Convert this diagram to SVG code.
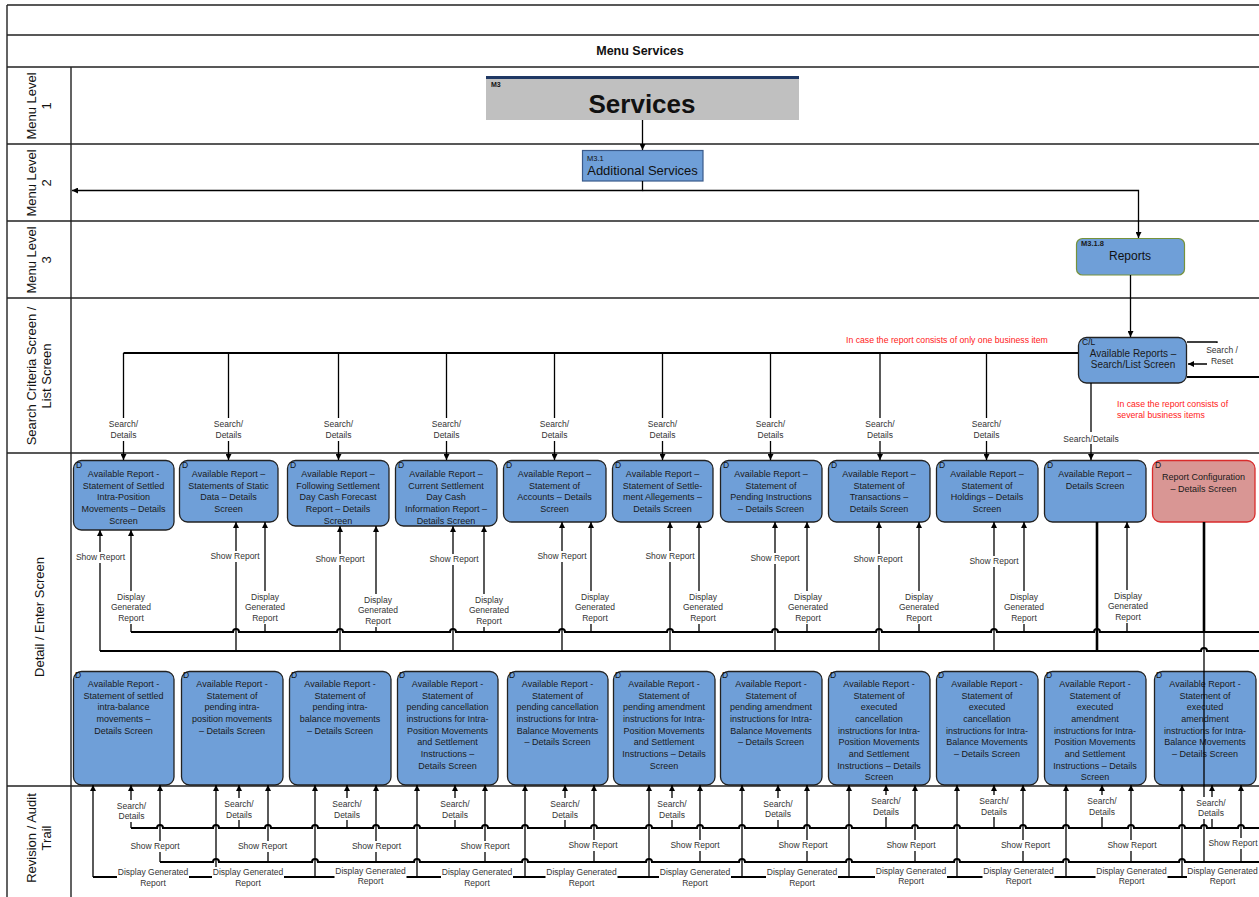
<svg xmlns="http://www.w3.org/2000/svg" width="1259" height="897" viewBox="0 0 1259 897">
<defs>
<marker id="ah" viewBox="0 0 8 8" refX="8" refY="4" markerWidth="6" markerHeight="6" orient="auto" markerUnits="userSpaceOnUse"><path d="M0,0 L8,4 L0,8 z" fill="#000"/></marker>
<style>
text{font-family:'Liberation Sans',Arial,sans-serif}
.lane{stroke:#222;stroke-width:1.4;fill:none}
.ll{font-size:13px;fill:#111;text-anchor:middle}
.box{fill:#6f9fd8;stroke:#222;stroke-width:1.3}
.red{fill:#d99694;stroke:#d92b2b;stroke-width:1.3}
.bt{font-size:9px;fill:#1a1a1a;text-anchor:middle}
.d{font-size:8.5px;fill:#111}
.ln{stroke:#000;stroke-width:1.3;fill:none}
.ar{stroke:#000;stroke-width:1.3;fill:none;marker-end:url(#ah)}
.bus{stroke:#000;stroke-width:2;fill:none}
.thk{stroke:#000;stroke-width:2.6;fill:none}
.lb{fill:#fff}
.cl{font-size:8.5px;fill:#333;text-anchor:middle}
.rt{font-size:8.7px;fill:#ff2020}
</style>
</defs>
<rect width="1259" height="897" fill="#fff"/>
<g id="lanes">
<path class="lane" d="M7,5 H1259 M7,5 V897 M7,35 H1259 M7,67 H1259 M7,144 H1259 M7,221 H1259 M7,298 H1259 M7,453 H1259 M7,786 H1259 M71,67 V897" />
<text x="640" y="55" style="font-size:12.5px;font-weight:bold;text-anchor:middle;fill:#111">Menu Services</text>
<text class="ll" transform="translate(36,106) rotate(-90)">Menu Level</text>
<text class="ll" transform="translate(51,106) rotate(-90)">1</text>
<text class="ll" transform="translate(36,183) rotate(-90)">Menu Level</text>
<text class="ll" transform="translate(51,183) rotate(-90)">2</text>
<text class="ll" transform="translate(36,260) rotate(-90)">Menu Level</text>
<text class="ll" transform="translate(51,260) rotate(-90)">3</text>
<text class="ll" transform="translate(36,376) rotate(-90)">Search Criteria Screen /</text>
<text class="ll" transform="translate(51,376) rotate(-90)">List Screen</text>
<text class="ll" transform="translate(44,617) rotate(-90)">Detail / Enter Screen</text>
<text class="ll" transform="translate(36,838) rotate(-90)">Revision / Audit</text>
<text class="ll" transform="translate(51,838) rotate(-90)">Trail</text>
</g>

<g id="n-services">
<rect x="486" y="76" width="313" height="44" fill="#c0c0c0"/>
<rect x="486" y="76" width="313" height="3" fill="#1f3864"/>
<text x="491" y="87" style="font-size:7px;font-weight:bold;fill:#111">M3</text>
<text x="642" y="113" style="font-size:26px;font-weight:bold;fill:#111;text-anchor:middle">Services</text>
</g>
<g id="n-additional">
<rect x="582.5" y="150.5" width="120.5" height="30.5" fill="#6f9fd8" stroke="#3a5a8a" stroke-width="1.2"/>
<text x="587" y="161" style="font-size:7.5px;fill:#111">M3.1</text>
<text x="642.5" y="175" style="font-size:13px;fill:#111;text-anchor:middle">Additional Services</text>
</g>
<g id="n-reports">
<rect x="1076.5" y="238.5" width="108" height="36.5" rx="6" fill="#6f9fd8" stroke="#76923c" stroke-width="1.2"/>
<text x="1081" y="245.5" style="font-size:7.5px;font-weight:bold;fill:#1a1a1a">M3.1.8</text>
<text x="1130" y="260" style="font-size:12px;fill:#111;text-anchor:middle">Reports</text>
</g>
<g id="n-list">
<rect class="box" x="1078.5" y="337.5" width="108" height="45.5" rx="8"/>
<text class="d" x="1082" y="345">C/L</text>
<text x="1133" y="357" style="font-size:10px;fill:#1a1a1a;text-anchor:middle">Available Reports –</text>
<text x="1133" y="368" style="font-size:10px;fill:#1a1a1a;text-anchor:middle">Search/List Screen</text>
</g>

<g id="notes">
<text class="rt" x="846" y="343">In case the report consists of only one business item</text>
<text class="rt" x="1117" y="407">In case the report consists of</text>
<text class="rt" x="1117" y="418">several business items</text>
</g>

<g id="n-d1"><rect class="box" x="73.5" y="460.5" width="100.5" height="69.5" rx="8"/><text class="d" x="76" y="467.5">D</text>
<text class="bt"><tspan x="123.5" y="477">Available Report -</tspan><tspan x="123.5" y="489">Statement of Settled</tspan><tspan x="123.5" y="500">Intra-Position</tspan><tspan x="123.5" y="512">Movements – Details</tspan><tspan x="123.5" y="524">Screen</tspan></text></g>
<g id="n-d2"><rect class="box" x="179.5" y="460.5" width="98.5" height="61.5" rx="8"/><text class="d" x="182" y="467.5">D</text>
<text class="bt"><tspan x="228.5" y="477">Available Report –</tspan><tspan x="228.5" y="489">Statements of Static</tspan><tspan x="228.5" y="500">Data – Details</tspan><tspan x="228.5" y="512">Screen</tspan></text></g>
<g id="n-d3"><rect class="box" x="287.5" y="460.5" width="101.5" height="65.5" rx="8"/><text class="d" x="290" y="467.5">D</text>
<text class="bt"><tspan x="338" y="477">Available Report –</tspan><tspan x="338" y="489">Following Settlement</tspan><tspan x="338" y="500">Day Cash Forecast</tspan><tspan x="338" y="512">Report – Details</tspan><tspan x="338" y="524">Screen</tspan></text></g>
<g id="n-d4"><rect class="box" x="395.5" y="460.5" width="101.5" height="65.5" rx="8"/><text class="d" x="398" y="467.5">D</text>
<text class="bt"><tspan x="446" y="477">Available Report –</tspan><tspan x="446" y="489">Current Settlement</tspan><tspan x="446" y="500">Day Cash</tspan><tspan x="446" y="512">Information Report –</tspan><tspan x="446" y="524">Details Screen</tspan></text></g>
<g id="n-d5"><rect class="box" x="503.5" y="460.5" width="102.5" height="61.5" rx="8"/><text class="d" x="506" y="467.5">D</text>
<text class="bt"><tspan x="554.5" y="477">Available Report –</tspan><tspan x="554.5" y="489">Statement of</tspan><tspan x="554.5" y="500">Accounts – Details</tspan><tspan x="554.5" y="512">Screen</tspan></text></g>
<g id="n-d6"><rect class="box" x="612.5" y="460.5" width="100.5" height="61.5" rx="8"/><text class="d" x="615" y="467.5">D</text>
<text class="bt"><tspan x="662.5" y="477">Available Report –</tspan><tspan x="662.5" y="489">Statement of Settle-</tspan><tspan x="662.5" y="500">ment Allegements –</tspan><tspan x="662.5" y="512">Details Screen</tspan></text></g>
<g id="n-d7"><rect class="box" x="720.5" y="460.5" width="101.5" height="61.5" rx="8"/><text class="d" x="723" y="467.5">D</text>
<text class="bt"><tspan x="771" y="477">Available Report –</tspan><tspan x="771" y="489">Statement of</tspan><tspan x="771" y="500">Pending Instructions</tspan><tspan x="771" y="512">– Details Screen</tspan></text></g>
<g id="n-d8"><rect class="box" x="828.5" y="460.5" width="101.5" height="61.5" rx="8"/><text class="d" x="831" y="467.5">D</text>
<text class="bt"><tspan x="879" y="477">Available Report –</tspan><tspan x="879" y="489">Statement of</tspan><tspan x="879" y="500">Transactions –</tspan><tspan x="879" y="512">Details Screen</tspan></text></g>
<g id="n-d9"><rect class="box" x="936.5" y="460.5" width="101.5" height="61.5" rx="8"/><text class="d" x="939" y="467.5">D</text>
<text class="bt"><tspan x="987" y="477">Available Report –</tspan><tspan x="987" y="489">Statement of</tspan><tspan x="987" y="500">Holdings – Details</tspan><tspan x="987" y="512">Screen</tspan></text></g>
<g id="n-d10"><rect class="box" x="1044.5" y="460.5" width="101.5" height="61.5" rx="8"/><text class="d" x="1047" y="467.5">D</text>
<text class="bt"><tspan x="1095" y="477">Available Report –</tspan><tspan x="1095" y="489">Details Screen</tspan></text></g>
<g id="n-d11"><rect class="red" x="1152.5" y="460.5" width="102.5" height="61.5" rx="8"/><text class="d" x="1155" y="467.5">D</text>
<text class="bt"><tspan x="1203.5" y="480">Report Configuration</tspan><tspan x="1203.5" y="492">– Details Screen</tspan></text></g>

<g id="n-e1"><rect class="box" x="73.5" y="671.5" width="100.5" height="113.5" rx="8"/><text class="d" x="75" y="677.5">D</text>
<text class="bt"><tspan x="123.5" y="687">Available Report -</tspan><tspan x="123.5" y="699">Statement of settled</tspan><tspan x="123.5" y="710">intra-balance</tspan><tspan x="123.5" y="722">movements  –</tspan><tspan x="123.5" y="734">Details Screen</tspan></text></g>
<g id="n-e2"><rect class="box" x="181.5" y="671.5" width="101.5" height="113.5" rx="8"/><text class="d" x="183" y="677.5">D</text>
<text class="bt"><tspan x="232" y="687">Available Report -</tspan><tspan x="232" y="699">Statement of</tspan><tspan x="232" y="710">pending intra-</tspan><tspan x="232" y="722">position movements</tspan><tspan x="232" y="734">– Details Screen</tspan></text></g>
<g id="n-e3"><rect class="box" x="289.5" y="671.5" width="101.5" height="113.5" rx="8"/><text class="d" x="291" y="677.5">D</text>
<text class="bt"><tspan x="340" y="687">Available Report -</tspan><tspan x="340" y="699">Statement of</tspan><tspan x="340" y="710">pending intra-</tspan><tspan x="340" y="722">balance movements</tspan><tspan x="340" y="734">– Details Screen</tspan></text></g>
<g id="n-e4"><rect class="box" x="397.5" y="671.5" width="100.5" height="113.5" rx="8"/><text class="d" x="399" y="677.5">D</text>
<text class="bt"><tspan x="447.5" y="687">Available Report -</tspan><tspan x="447.5" y="699">Statement of</tspan><tspan x="447.5" y="710">pending cancellation</tspan><tspan x="447.5" y="722">instructions for Intra-</tspan><tspan x="447.5" y="734">Position Movements</tspan><tspan x="447.5" y="745">and Settlement</tspan><tspan x="447.5" y="757">Instructions  –</tspan><tspan x="447.5" y="769">Details Screen</tspan></text></g>
<g id="n-e5"><rect class="box" x="507.5" y="671.5" width="100.5" height="113.5" rx="8"/><text class="d" x="509" y="677.5">D</text>
<text class="bt"><tspan x="557.5" y="687">Available Report -</tspan><tspan x="557.5" y="699">Statement of</tspan><tspan x="557.5" y="710">pending cancellation</tspan><tspan x="557.5" y="722">instructions for Intra-</tspan><tspan x="557.5" y="734">Balance Movements</tspan><tspan x="557.5" y="745">– Details Screen</tspan></text></g>
<g id="n-e6"><rect class="box" x="613.5" y="671.5" width="101.5" height="113.5" rx="8"/><text class="d" x="615" y="677.5">D</text>
<text class="bt"><tspan x="664" y="687">Available Report -</tspan><tspan x="664" y="699">Statement of</tspan><tspan x="664" y="710">pending amendment</tspan><tspan x="664" y="722">instructions for Intra-</tspan><tspan x="664" y="734">Position Movements</tspan><tspan x="664" y="745">and Settlement</tspan><tspan x="664" y="757">Instructions – Details</tspan><tspan x="664" y="769">Screen</tspan></text></g>
<g id="n-e7"><rect class="box" x="720.5" y="671.5" width="101.5" height="113.5" rx="8"/><text class="d" x="722" y="677.5">D</text>
<text class="bt"><tspan x="771" y="687">Available Report -</tspan><tspan x="771" y="699">Statement of</tspan><tspan x="771" y="710">pending amendment</tspan><tspan x="771" y="722">instructions for Intra-</tspan><tspan x="771" y="734">Balance Movements</tspan><tspan x="771" y="745">– Details Screen</tspan></text></g>
<g id="n-e8"><rect class="box" x="828.5" y="671.5" width="101.5" height="113.5" rx="8"/><text class="d" x="830" y="677.5">D</text>
<text class="bt"><tspan x="879" y="687">Available Report -</tspan><tspan x="879" y="699">Statement of</tspan><tspan x="879" y="710">executed</tspan><tspan x="879" y="722">cancellation</tspan><tspan x="879" y="734">instructions for Intra-</tspan><tspan x="879" y="745">Position Movements</tspan><tspan x="879" y="757">and Settlement</tspan><tspan x="879" y="769">Instructions – Details</tspan><tspan x="879" y="780">Screen</tspan></text></g>
<g id="n-e9"><rect class="box" x="936.5" y="671.5" width="101.5" height="113.5" rx="8"/><text class="d" x="938" y="677.5">D</text>
<text class="bt"><tspan x="987" y="687">Available Report -</tspan><tspan x="987" y="699">Statement of</tspan><tspan x="987" y="710">executed</tspan><tspan x="987" y="722">cancellation</tspan><tspan x="987" y="734">instructions for Intra-</tspan><tspan x="987" y="745">Balance Movements</tspan><tspan x="987" y="757">– Details Screen</tspan></text></g>
<g id="n-e10"><rect class="box" x="1044.5" y="671.5" width="101.5" height="113.5" rx="8"/><text class="d" x="1046" y="677.5">D</text>
<text class="bt"><tspan x="1095" y="687">Available Report -</tspan><tspan x="1095" y="699">Statement of</tspan><tspan x="1095" y="710">executed</tspan><tspan x="1095" y="722">amendment</tspan><tspan x="1095" y="734">instructions for Intra-</tspan><tspan x="1095" y="745">Position Movements</tspan><tspan x="1095" y="757">and Settlement</tspan><tspan x="1095" y="769">Instructions – Details</tspan><tspan x="1095" y="780">Screen</tspan></text></g>
<g id="n-e11"><rect class="box" x="1154.5" y="671.5" width="101.5" height="113.5" rx="8"/><text class="d" x="1156" y="677.5">D</text>
<text class="bt"><tspan x="1205" y="687">Available Report -</tspan><tspan x="1205" y="699">Statement of</tspan><tspan x="1205" y="710">executed</tspan><tspan x="1205" y="722">amendment</tspan><tspan x="1205" y="734">instructions for Intra-</tspan><tspan x="1205" y="745">Balance Movements</tspan><tspan x="1205" y="757">– Details Screen</tspan></text></g>

<g id="connectors">
<path class="ar" d="M642.5,120 V150"/>
<path class="ar" d="M642.5,181 V190.5 H72"/>
<path class="ar" d="M642.5,190.5 H1138.5 V238"/>
<path class="ar" d="M1130.5,275 V337"/>
<path class="ar" d="M1187,342 H1217 V364 H1188"/>
<path class="bus" d="M1187,377 H1259"/>
<path class="bus" d="M1078,353 H123.5"/>
<path class="ar" d="M123.5,353 V460"/><path class="ar" d="M228.5,353 V460"/><path class="ar" d="M338.5,353 V460"/><path class="ar" d="M446.5,353 V460"/><path class="ar" d="M554.5,353 V460"/><path class="ar" d="M662.5,353 V460"/><path class="ar" d="M770.5,353 V460"/><path class="ar" d="M880,353 V460"/><path class="ar" d="M986.5,353 V460"/>
<path class="ar" d="M1091,383 V460"/>

<path class="bus" d="M131,632 H233 a3,3 0 0 1 6,0 H337 a3,3 0 0 1 6,0 H450 a3,3 0 0 1 6,0 H559 a3,3 0 0 1 6,0 H667 a3,3 0 0 1 6,0 H772 a3,3 0 0 1 6,0 H876 a3,3 0 0 1 6,0 H991 a3,3 0 0 1 6,0 H1094 a3,3 0 0 1 6,0 H1259"/>
<path class="bus" d="M100,651 H1201 a3,3 0 0 1 6,0 H1259"/>
<path class="ar" d="M100,651 V530"/><path class="ar" d="M236,651 V522"/><path class="ar" d="M340,651 V526"/><path class="ar" d="M453,651 V526"/><path class="ar" d="M562,651 V522"/><path class="ar" d="M670,651 V522"/><path class="ar" d="M775,651 V522"/><path class="ar" d="M879,651 V522"/><path class="ar" d="M994,651 V522"/>
<path class="ar" d="M131,632 V530"/><path class="ar" d="M265,632 V522"/><path class="ar" d="M376,632 V526"/><path class="ar" d="M484,632 V526"/><path class="ar" d="M591,632 V522"/><path class="ar" d="M699,632 V522"/><path class="ar" d="M807,632 V522"/><path class="ar" d="M919,632 V522"/><path class="ar" d="M1024,632 V522"/><path class="ar" d="M1127,632 V522"/>
<path class="thk" d="M1097,522 V651"/>
<path class="thk" d="M1204,522 V632"/>
<path class="ln" d="M1204,632 V862"/>

<path class="bus" d="M131,828 H157 a3,3 0 0 1 6,0 H213 a3,3 0 0 1 6,0 H265 a3,3 0 0 1 6,0 H312 a3,3 0 0 1 6,0 H373 a3,3 0 0 1 6,0 H414 a3,3 0 0 1 6,0 H482 a3,3 0 0 1 6,0 H522 a3,3 0 0 1 6,0 H591 a3,3 0 0 1 6,0 H646 a3,3 0 0 1 6,0 H697 a3,3 0 0 1 6,0 H739 a3,3 0 0 1 6,0 H804 a3,3 0 0 1 6,0 H846 a3,3 0 0 1 6,0 H912 a3,3 0 0 1 6,0 H954 a3,3 0 0 1 6,0 H1020 a3,3 0 0 1 6,0 H1063 a3,3 0 0 1 6,0 H1128 a3,3 0 0 1 6,0 H1179 a3,3 0 0 1 6,0 H1201 a3,3 0 0 1 6,0 H1238 a3,3 0 0 1 6,0 H1259"/>
<path class="bus" d="M160,862 H213 a3,3 0 0 1 6,0 H312 a3,3 0 0 1 6,0 H414 a3,3 0 0 1 6,0 H522 a3,3 0 0 1 6,0 H646 a3,3 0 0 1 6,0 H739 a3,3 0 0 1 6,0 H846 a3,3 0 0 1 6,0 H954 a3,3 0 0 1 6,0 H1063 a3,3 0 0 1 6,0 H1179 a3,3 0 0 1 6,0 H1259"/>
<path class="bus" d="M93,877 H1259"/>
<path class="ar" d="M93,877 V785"/><path class="ar" d="M216,877 V785"/><path class="ar" d="M315,877 V785"/><path class="ar" d="M417,877 V785"/><path class="ar" d="M525,877 V785"/><path class="ar" d="M649,877 V785"/><path class="ar" d="M742,877 V785"/><path class="ar" d="M849,877 V785"/><path class="ar" d="M957,877 V785"/><path class="ar" d="M1066,877 V785"/><path class="ar" d="M1182,877 V785"/>
<path class="ar" d="M131,828 V785"/><path class="ar" d="M239,828 V785"/><path class="ar" d="M347,828 V785"/><path class="ar" d="M455,828 V785"/><path class="ar" d="M565,828 V785"/><path class="ar" d="M672,828 V785"/><path class="ar" d="M778,828 V785"/><path class="ar" d="M886,828 V785"/><path class="ar" d="M994,828 V785"/><path class="ar" d="M1102,828 V785"/><path class="ar" d="M1212,828 V785"/>
<path class="ar" d="M160,862 V785"/><path class="ar" d="M268,862 V785"/><path class="ar" d="M376,862 V785"/><path class="ar" d="M485,862 V785"/><path class="ar" d="M594,862 V785"/><path class="ar" d="M700,862 V785"/><path class="ar" d="M807,862 V785"/><path class="ar" d="M915,862 V785"/><path class="ar" d="M1023,862 V785"/><path class="ar" d="M1131,862 V785"/><path class="ar" d="M1241,862 V785"/>

<g id="label-bg">
<rect class="lb" x="1207" y="343" width="31" height="23"/>
<rect class="lb" x="107.5" y="418" width="32" height="23"/><rect class="lb" x="212.5" y="418" width="32" height="23"/><rect class="lb" x="322.5" y="418" width="32" height="23"/><rect class="lb" x="430.5" y="418" width="32" height="23"/><rect class="lb" x="538.5" y="418" width="32" height="23"/><rect class="lb" x="646.5" y="418" width="32" height="23"/><rect class="lb" x="754.5" y="418" width="32" height="23"/><rect class="lb" x="864" y="418" width="32" height="23"/><rect class="lb" x="970.5" y="418" width="32" height="23"/>
<rect class="lb" x="1062" y="432" width="58" height="12"/>
<rect class="lb" x="75.5" y="552" width="50" height="11"/><rect class="lb" x="210" y="551" width="50" height="11"/><rect class="lb" x="315" y="554" width="50" height="11"/><rect class="lb" x="429" y="554" width="50" height="11"/><rect class="lb" x="537" y="551" width="50" height="11"/><rect class="lb" x="645" y="551" width="50" height="11"/><rect class="lb" x="750" y="553" width="50" height="11"/><rect class="lb" x="853" y="554" width="50" height="11"/><rect class="lb" x="969" y="556" width="50" height="11"/>
<rect class="lb" x="109" y="591" width="44" height="33"/><rect class="lb" x="243" y="591" width="44" height="33"/><rect class="lb" x="356" y="594" width="44" height="33"/><rect class="lb" x="467" y="594" width="44" height="33"/><rect class="lb" x="573" y="591" width="44" height="33"/><rect class="lb" x="681" y="591" width="44" height="33"/><rect class="lb" x="786" y="591" width="44" height="33"/><rect class="lb" x="897" y="591" width="44" height="33"/><rect class="lb" x="1002" y="591" width="44" height="33"/><rect class="lb" x="1106" y="590" width="44" height="33"/>
<rect class="lb" x="115.5" y="800" width="32" height="22"/><rect class="lb" x="223" y="798" width="32" height="22"/><rect class="lb" x="331" y="798" width="32" height="22"/><rect class="lb" x="439" y="798" width="32" height="22"/><rect class="lb" x="549" y="798" width="32" height="22"/><rect class="lb" x="656" y="798" width="32" height="22"/><rect class="lb" x="762" y="798" width="32" height="22"/><rect class="lb" x="870" y="795" width="32" height="22"/><rect class="lb" x="978" y="795" width="32" height="22"/><rect class="lb" x="1086" y="795" width="32" height="22"/><rect class="lb" x="1195" y="797" width="32" height="22"/>
<rect class="lb" x="130" y="841" width="50" height="11"/><rect class="lb" x="237.5" y="841" width="50" height="11"/><rect class="lb" x="351.5" y="841" width="50" height="11"/><rect class="lb" x="460" y="841" width="50" height="11"/><rect class="lb" x="568" y="840" width="50" height="11"/><rect class="lb" x="670" y="840" width="50" height="11"/><rect class="lb" x="778" y="840" width="50" height="11"/><rect class="lb" x="886" y="840" width="50" height="11"/><rect class="lb" x="1000.5" y="840" width="50" height="11"/><rect class="lb" x="1107" y="840" width="50" height="11"/><rect class="lb" x="1208" y="838" width="51" height="11"/>
<rect class="lb" x="117" y="867" width="72" height="22"/><rect class="lb" x="212" y="867" width="72" height="22"/><rect class="lb" x="334.5" y="866" width="72" height="22"/><rect class="lb" x="441" y="867" width="72" height="22"/><rect class="lb" x="545.5" y="867" width="72" height="22"/><rect class="lb" x="659" y="867" width="72" height="22"/><rect class="lb" x="766" y="867" width="72" height="22"/><rect class="lb" x="875" y="866" width="72" height="22"/><rect class="lb" x="982.5" y="866" width="72" height="22"/><rect class="lb" x="1095.5" y="866" width="72" height="22"/><rect class="lb" x="1187" y="866" width="72" height="22"/>
</g>
<g id="labels">
<text class="cl" x="1222" y="353">Search /</text><text class="cl" x="1222" y="364">Reset</text>
<text class="cl"><tspan x="123.5" y="427">Search/</tspan><tspan x="123.5" y="438">Details</tspan></text>
<text class="cl"><tspan x="228.5" y="427">Search/</tspan><tspan x="228.5" y="438">Details</tspan></text>
<text class="cl"><tspan x="338.5" y="427">Search/</tspan><tspan x="338.5" y="438">Details</tspan></text>
<text class="cl"><tspan x="446.5" y="427">Search/</tspan><tspan x="446.5" y="438">Details</tspan></text>
<text class="cl"><tspan x="554.5" y="427">Search/</tspan><tspan x="554.5" y="438">Details</tspan></text>
<text class="cl"><tspan x="662.5" y="427">Search/</tspan><tspan x="662.5" y="438">Details</tspan></text>
<text class="cl"><tspan x="770.5" y="427">Search/</tspan><tspan x="770.5" y="438">Details</tspan></text>
<text class="cl"><tspan x="880" y="427">Search/</tspan><tspan x="880" y="438">Details</tspan></text>
<text class="cl"><tspan x="986.5" y="427">Search/</tspan><tspan x="986.5" y="438">Details</tspan></text>
<text class="cl" x="1091" y="442">Search/Details</text>

<text class="cl" x="100.5" y="560">Show Report</text><text class="cl" x="235" y="559">Show Report</text><text class="cl" x="340" y="562">Show Report</text><text class="cl" x="454" y="562">Show Report</text><text class="cl" x="562" y="559">Show Report</text><text class="cl" x="670" y="559">Show Report</text><text class="cl" x="775" y="561">Show Report</text><text class="cl" x="878" y="562">Show Report</text><text class="cl" x="994" y="564">Show Report</text>

<text class="cl"><tspan x="131" y="600">Display</tspan><tspan x="131" y="610">Generated</tspan><tspan x="131" y="621">Report</tspan></text>
<text class="cl"><tspan x="265" y="600">Display</tspan><tspan x="265" y="610">Generated</tspan><tspan x="265" y="621">Report</tspan></text>
<text class="cl"><tspan x="378" y="603">Display</tspan><tspan x="378" y="613">Generated</tspan><tspan x="378" y="624">Report</tspan></text>
<text class="cl"><tspan x="489" y="603">Display</tspan><tspan x="489" y="613">Generated</tspan><tspan x="489" y="624">Report</tspan></text>
<text class="cl"><tspan x="595" y="600">Display</tspan><tspan x="595" y="610">Generated</tspan><tspan x="595" y="621">Report</tspan></text>
<text class="cl"><tspan x="703" y="600">Display</tspan><tspan x="703" y="610">Generated</tspan><tspan x="703" y="621">Report</tspan></text>
<text class="cl"><tspan x="808" y="600">Display</tspan><tspan x="808" y="610">Generated</tspan><tspan x="808" y="621">Report</tspan></text>
<text class="cl"><tspan x="919" y="600">Display</tspan><tspan x="919" y="610">Generated</tspan><tspan x="919" y="621">Report</tspan></text>
<text class="cl"><tspan x="1024" y="600">Display</tspan><tspan x="1024" y="610">Generated</tspan><tspan x="1024" y="621">Report</tspan></text>
<text class="cl"><tspan x="1128" y="599">Display</tspan><tspan x="1128" y="609">Generated</tspan><tspan x="1128" y="620">Report</tspan></text>

<text class="cl"><tspan x="131.5" y="809">Search/</tspan><tspan x="131.5" y="819">Details</tspan></text>
<text class="cl"><tspan x="239" y="807">Search/</tspan><tspan x="239" y="818">Details</tspan></text>
<text class="cl"><tspan x="347" y="807">Search/</tspan><tspan x="347" y="818">Details</tspan></text>
<text class="cl"><tspan x="455" y="807">Search/</tspan><tspan x="455" y="818">Details</tspan></text>
<text class="cl"><tspan x="565" y="807">Search/</tspan><tspan x="565" y="818">Details</tspan></text>
<text class="cl"><tspan x="672" y="807">Search/</tspan><tspan x="672" y="818">Details</tspan></text>
<text class="cl"><tspan x="778" y="807">Search/</tspan><tspan x="778" y="817">Details</tspan></text>
<text class="cl"><tspan x="886" y="804">Search/</tspan><tspan x="886" y="815">Details</tspan></text>
<text class="cl"><tspan x="994" y="804">Search/</tspan><tspan x="994" y="815">Details</tspan></text>
<text class="cl"><tspan x="1102" y="804">Search/</tspan><tspan x="1102" y="815">Details</tspan></text>
<text class="cl"><tspan x="1211" y="806">Search/</tspan><tspan x="1211" y="816">Details</tspan></text>

<text class="cl" x="155" y="849">Show Report</text><text class="cl" x="262.5" y="849">Show Report</text><text class="cl" x="376.5" y="849">Show Report</text><text class="cl" x="485" y="849">Show Report</text><text class="cl" x="593" y="848">Show Report</text><text class="cl" x="695" y="848">Show Report</text><text class="cl" x="803" y="848">Show Report</text><text class="cl" x="911" y="848">Show Report</text><text class="cl" x="1025.5" y="848">Show Report</text><text class="cl" x="1132" y="848">Show Report</text><text class="cl" x="1233" y="846">Show Report</text>

<text class="cl"><tspan x="153" y="875">Display Generated</tspan><tspan x="153" y="886">Report</tspan></text>
<text class="cl"><tspan x="248" y="875">Display Generated</tspan><tspan x="248" y="886">Report</tspan></text>
<text class="cl"><tspan x="370.5" y="874">Display Generated</tspan><tspan x="370.5" y="884">Report</tspan></text>
<text class="cl"><tspan x="477" y="875">Display Generated</tspan><tspan x="477" y="886">Report</tspan></text>
<text class="cl"><tspan x="581.5" y="875">Display Generated</tspan><tspan x="581.5" y="886">Report</tspan></text>
<text class="cl"><tspan x="695" y="875">Display Generated</tspan><tspan x="695" y="886">Report</tspan></text>
<text class="cl"><tspan x="802" y="875">Display Generated</tspan><tspan x="802" y="886">Report</tspan></text>
<text class="cl"><tspan x="911" y="874">Display Generated</tspan><tspan x="911" y="884">Report</tspan></text>
<text class="cl"><tspan x="1018.5" y="874">Display Generated</tspan><tspan x="1018.5" y="884">Report</tspan></text>
<text class="cl"><tspan x="1131.5" y="874">Display Generated</tspan><tspan x="1131.5" y="884">Report</tspan></text>
<text class="cl"><tspan x="1222.5" y="874">Display Generated</tspan><tspan x="1222.5" y="884">Report</tspan></text>
</g>
</g>
</svg>
